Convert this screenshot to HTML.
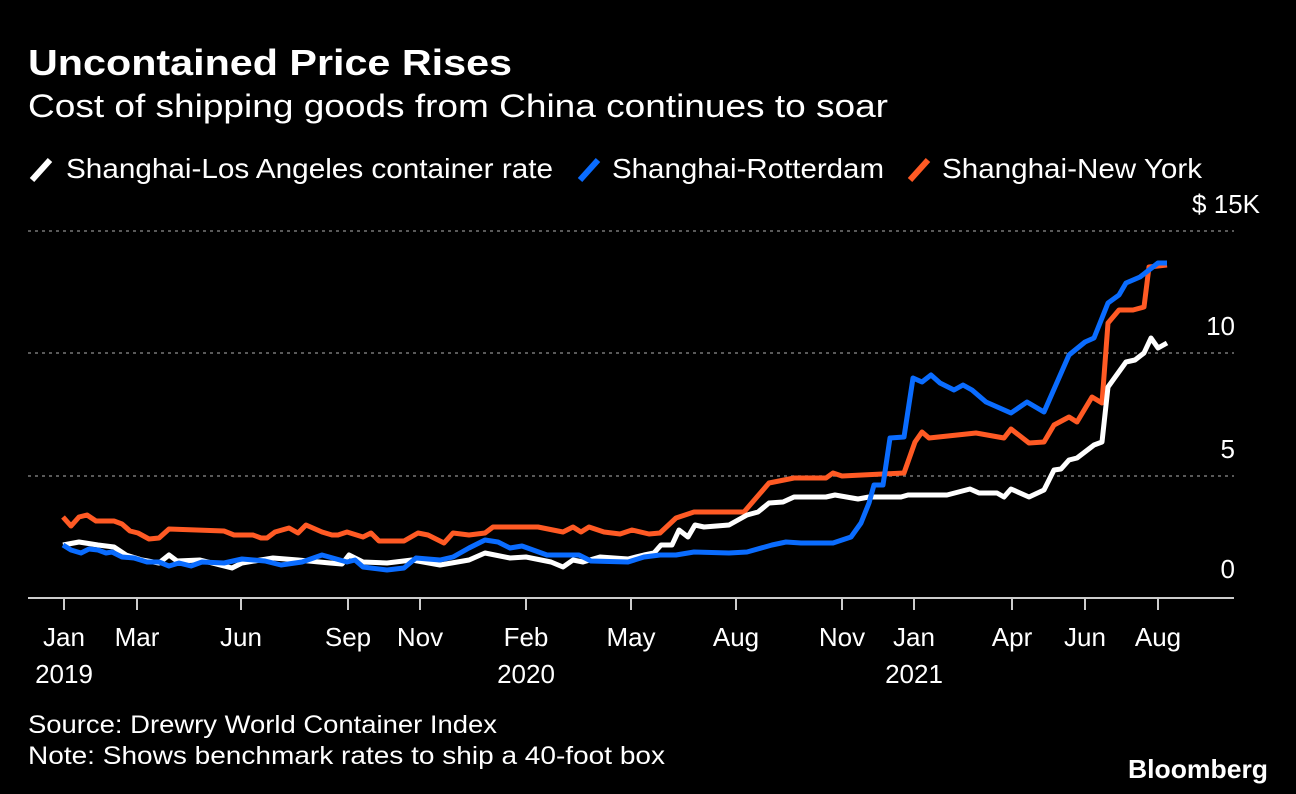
<!DOCTYPE html>
<html><head><meta charset="utf-8"><style>
html,body{margin:0;padding:0;background:#000;}
svg{display:block;}
text{font-family:"Liberation Sans",sans-serif;fill:#fff;}
</style></head><body>
<svg width="1296" height="794" viewBox="0 0 1296 794" xmlns="http://www.w3.org/2000/svg">
<rect width="1296" height="794" fill="#000"/>
<text x="28" y="75" font-size="36" font-weight="bold" textLength="484" lengthAdjust="spacingAndGlyphs">Uncontained Price Rises</text>
<text x="28" y="117" font-size="32" textLength="860" lengthAdjust="spacingAndGlyphs">Cost of shipping goods from China continues to soar</text>
<g stroke-width="6" stroke-linecap="butt">
<line x1="32" y1="180" x2="50" y2="160" stroke="#fff"/>
<line x1="580" y1="180" x2="598" y2="160" stroke="#0a6cff"/>
<line x1="910" y1="180" x2="928" y2="160" stroke="#ff5a24"/>
</g>
<text x="66" y="178" font-size="28" fill="#e6e6e6" textLength="487" lengthAdjust="spacingAndGlyphs">Shanghai-Los Angeles container rate</text>
<text x="612" y="178" font-size="28" textLength="272" lengthAdjust="spacingAndGlyphs">Shanghai-Rotterdam</text>
<text x="942" y="178" font-size="28" textLength="260" lengthAdjust="spacingAndGlyphs">Shanghai-New York</text>
<g stroke="#777" stroke-width="1.5" stroke-dasharray="3,4">
<line x1="28" y1="231" x2="1234" y2="231"/>
<line x1="28" y1="353" x2="1234" y2="353"/>
<line x1="28" y1="476" x2="1234" y2="476"/>
</g>
<g font-size="26" fill="#ddd" text-anchor="end">
<text x="1260" y="213">$ 15K</text>
<text x="1235" y="335">10</text>
<text x="1235" y="458">5</text>
<text x="1235" y="578">0</text>
</g>
<line x1="28" y1="598" x2="1234" y2="598" stroke="#ccc" stroke-width="2"/>
<g stroke="#ccc" stroke-width="2">
<line x1="64" y1="598" x2="64" y2="610"/><line x1="137" y1="598" x2="137" y2="610"/>
<line x1="241" y1="598" x2="241" y2="610"/><line x1="348" y1="598" x2="348" y2="610"/>
<line x1="420" y1="598" x2="420" y2="610"/><line x1="526" y1="598" x2="526" y2="610"/>
<line x1="631" y1="598" x2="631" y2="610"/><line x1="736" y1="598" x2="736" y2="610"/>
<line x1="842" y1="598" x2="842" y2="610"/><line x1="914" y1="598" x2="914" y2="610"/>
<line x1="1012" y1="598" x2="1012" y2="610"/><line x1="1085" y1="598" x2="1085" y2="610"/>
<line x1="1158" y1="598" x2="1158" y2="610"/>
</g>
<g font-size="26" fill="#ddd" text-anchor="middle">
<text x="64" y="646">Jan</text><text x="64" y="683">2019</text>
<text x="137" y="646">Mar</text><text x="241" y="646">Jun</text>
<text x="348" y="646">Sep</text><text x="420" y="646">Nov</text>
<text x="526" y="646">Feb</text><text x="526" y="683">2020</text>
<text x="631" y="646">May</text><text x="736" y="646">Aug</text>
<text x="842" y="646">Nov</text><text x="914" y="646">Jan</text><text x="914" y="683">2021</text>
<text x="1012" y="646">Apr</text><text x="1085" y="646">Jun</text><text x="1158" y="646">Aug</text>
</g>
<g fill="none" stroke-width="5" stroke-linejoin="round">
<polyline stroke="#ff5a24" points="63,517 71,526 79,517 87,515 96,521 114,521 122,524 130,531 138,533 149,539 159,538 169,529 224,531 234,535 253,535 261,538 267,538 275,532 289,528 298,533 306,525 322,532 332,535 338,535 347,532 363,537 371,533 379,541 404,541 418,533 428,535 444,543 453,533 469,535 485,533 493,527 538,527 563,532 573,527 581,532 589,527 604,532 620,534 632,530 649,534 660,533 676,518 694,512 744,512 769,483 794,478 826,478 833,473 842,476 904,473 915,442 922,432 929,438 976,433 1004,438 1011,429 1029,443 1044,442 1054,425 1069,417 1077,422 1092,397 1102,403 1108,323 1119,310 1133,310 1144,307 1149,267 1167,265"/>
<polyline stroke="#fff" points="63,545 79,542 98,545 114,547 126,555 142,560 159,563 169,555 177,561 200,560 220,565 232,568 242,563 273,558 298,560 330,563 342,564 349,555 363,562 387,563 412,560 440,565 469,560 485,553 510,558 526,557 551,562 563,567 573,560 583,562 600,557 628,559 644,555 654,553 661,545 672,545 679,530 688,537 695,525 704,527 729,525 747,515 758,512 769,503 783,502 794,497 826,497 835,495 858,499 869,497 901,497 908,495 947,495 970,489 979,493 997,493 1004,497 1011,489 1029,497 1044,490 1054,470 1061,469 1069,460 1077,458 1094,445 1102,442 1108,387 1126,362 1135,360 1144,353 1151,338 1158,348 1167,343"/>
<polyline stroke="#0a6cff" points="63,545 71,550 81,553 89,549 98,550 106,553 112,552 122,557 134,558 147,562 159,562 169,566 179,563 191,566 202,562 224,563 242,559 265,561 281,565 302,562 322,555 347,562 355,560 363,567 387,570 404,568 416,558 440,560 453,557 469,548 485,540 498,542 510,548 522,546 547,555 579,555 591,561 628,562 644,557 660,555 676,555 694,552 729,553 747,552 772,545 786,542 801,543 833,543 851,537 861,523 869,503 874,485 883,485 890,438 904,437 913,378 922,382 931,375 940,383 954,390 963,385 972,390 986,402 1011,413 1027,402 1044,412 1069,355 1085,342 1094,338 1108,303 1119,295 1126,283 1140,277 1158,263 1167,263"/>
</g>
<text x="28" y="733" font-size="25" fill="#ddd" textLength="469" lengthAdjust="spacingAndGlyphs">Source: Drewry World Container Index</text>
<text x="28" y="764" font-size="25" fill="#ddd" textLength="637" lengthAdjust="spacingAndGlyphs">Note: Shows benchmark rates to ship a 40-foot box</text>
<text x="1128" y="778" font-size="26" font-weight="bold" fill="#ddd" textLength="140" lengthAdjust="spacingAndGlyphs">Bloomberg</text>
</svg>
</body></html>
